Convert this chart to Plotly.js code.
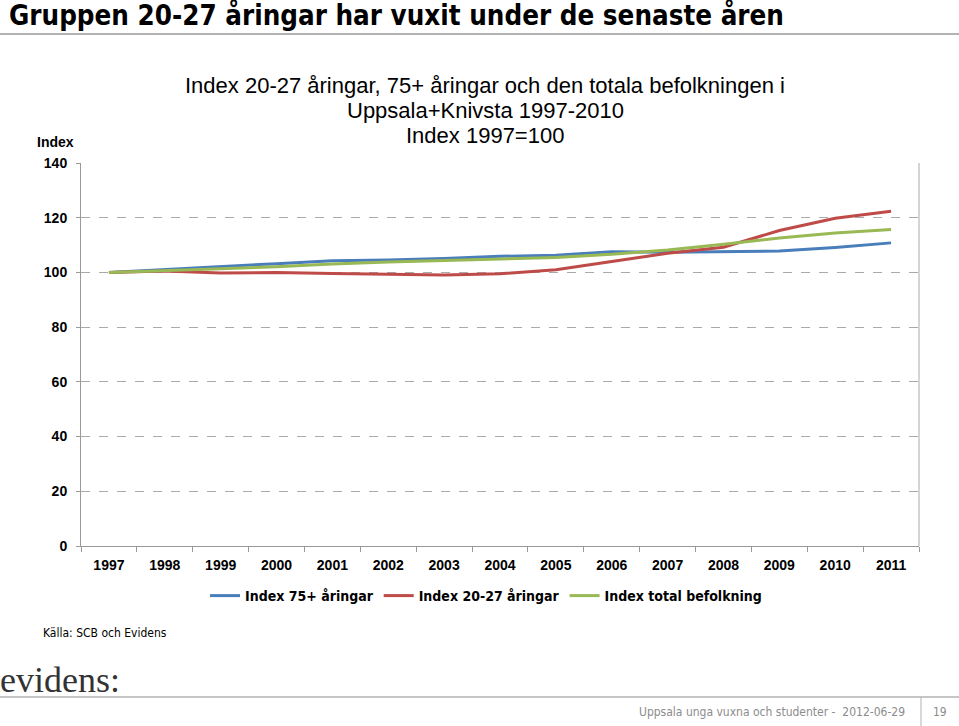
<!DOCTYPE html>
<html>
<head>
<meta charset="utf-8">
<script src="https://cdn.plot.ly/plotly-3.0.1.min.js"></script>
<style>
html,body{margin:0;padding:0;background:#fff;}
#chart{width:959px;height:726px;}
</style>
</head>
<body>
<div id="chart"></div>
<script>
const years = ["1997","1998","1999","2000","2001","2002","2003","2004","2005","2006","2007","2008","2009","2010","2011"];
const index75 = [100, 101, 102.2, 103.2, 104.3, 104.5, 105.1, 105.9, 106.3, 107.6, 107.4, 107.5, 107.8, 109.1, 110.8];
const index2027 = [100, 100.5, 99.8, 100, 99.6, 99.3, 99.1, 99.5, 101, 104, 107, 109.2, 115.3, 119.8, 122.4];
const indexTotal = [100, 100.6, 101.3, 102.1, 103.1, 103.8, 104.4, 104.9, 105.5, 106.6, 108.2, 110.3, 112.6, 114.4, 115.7];
const seriesNames = ["Index 75+ åringar", "Index 20-27 åringar", "Index total befolkning"];
const yTicks = [0, 20, 40, 60, 80, 100, 120, 140];
const titleLines = ["Index 20-27 åringar, 75+ åringar och den totala befolkningen i", "Uppsala+Knivsta 1997-2010", "Index 1997=100"];

const narrow = "Liberation Sans Narrow, DejaVu Sans Condensed, sans-serif";
const arial = "Liberation Sans, Arial, sans-serif";

const colors = ["#4A7EBB", "#BE4B48", "#98B954"];
const data = [index75, index2027, indexTotal].map((v, i) => ({
  type: "scatter", mode: "lines", x: years, y: v, name: seriesNames[i],
  line: {color: colors[i], width: 3}
}));

// pixel helpers (plot area: x 81..919, y 163..546)
const px = x => (x - 81) / 838;
const py = y => (546 - y) / 383;

const titleAnns = titleLines.map((t, i) => ({
  xref: "paper", yref: "paper", x: px(485), y: py(85 + 25 * i), xanchor: "center", yanchor: "middle",
  showarrow: false, text: t, font: {family: arial, size: 22, color: "#000"}
}));

const layout = {
  width: 959, height: 726,
  margin: {l: 81, r: 40, t: 163, b: 180},
  paper_bgcolor: "#fff", plot_bgcolor: "#fff",
  showlegend: true,
  legend: {orientation: "h", x: px(486), xanchor: "center", y: py(596), yanchor: "middle",
    font: {family: narrow, size: 14, color: "#000", weight: "bold"}, itemwidth: 30},
  xaxis: {
    type: "category", range: [-0.5, 14.5], tickvals: years, ticktext: years,
    tickson: "boundaries", ticks: "outside", ticklen: 5, tickcolor: "#999",
    showline: true, linecolor: "#999", linewidth: 1,
    showgrid: false, zeroline: false, ticklabelstandoff: 6,
    tickfont: {family: arial, size: 14, color: "#000", weight: "bold"}
  },
  yaxis: {
    range: [0, 140], tickvals: yTicks, ticks: "outside", ticklen: 4, tickcolor: "#999",
    showline: true, linecolor: "#999", linewidth: 1,
    showgrid: true, gridcolor: "#aaa", griddash: "dash", gridwidth: 1,
    zeroline: false, ticklabelstandoff: 6,
    tickfont: {family: arial, size: 14, color: "#000", weight: "bold"}
  },
  shapes: [
    {type: "line", xref: "paper", yref: "paper", x0: 1, x1: 1, y0: 0, y1: 1, line: {color: "#aaa", width: 1}},
    {type: "line", xref: "paper", yref: "paper", x0: px(0), x1: px(959), y0: py(34), y1: py(34), line: {color: "#b3b3b3", width: 2}},
    {type: "line", xref: "paper", yref: "paper", x0: px(0), x1: px(959), y0: py(697), y1: py(697), line: {color: "#b3b3b3", width: 1.5}},
    {type: "line", xref: "paper", yref: "paper", x0: px(921), x1: px(921), y0: py(697), y1: py(726), line: {color: "#b3b3b3", width: 1}}
  ],
  annotations: titleAnns.concat([
    {xref: "paper", yref: "paper", x: px(7), y: py(15), xanchor: "left", yanchor: "middle", showarrow: false,
      text: "<b>Gruppen 20-27 åringar har vuxit under de senaste åren</b>", font: {family: narrow, size: 27.5, color: "#000"}},
    {xref: "paper", yref: "paper", x: px(76), y: py(142), xanchor: "right", yanchor: "middle", showarrow: false,
      text: "<b>Index</b>", font: {family: arial, size: 14, color: "#000"}},
    {xref: "paper", yref: "paper", x: px(41), y: py(633), xanchor: "left", yanchor: "middle", showarrow: false,
      text: "Källa: SCB och Evidens", font: {family: narrow, size: 12, color: "#000"}},
    {xref: "paper", yref: "paper", x: px(-2), y: py(680), xanchor: "left", yanchor: "middle", showarrow: false,
      text: "evidens:", font: {family: "Liberation Serif, DejaVu Serif, serif", size: 36, color: "#333"}},
    {xref: "paper", yref: "paper", x: px(907), y: py(712), xanchor: "right", yanchor: "middle", showarrow: false,
      text: "Uppsala unga vuxna och studenter -  2012-06-29", font: {family: narrow, size: 12, color: "#8c8c8c"}},
    {xref: "paper", yref: "paper", x: px(940), y: py(712), xanchor: "center", yanchor: "middle", showarrow: false,
      text: "19", font: {family: narrow, size: 12, color: "#8c8c8c"}}
  ])
};

Plotly.newPlot("chart", data, layout, {displayModeBar: false, staticPlot: true});
</script>
</body>
</html>
